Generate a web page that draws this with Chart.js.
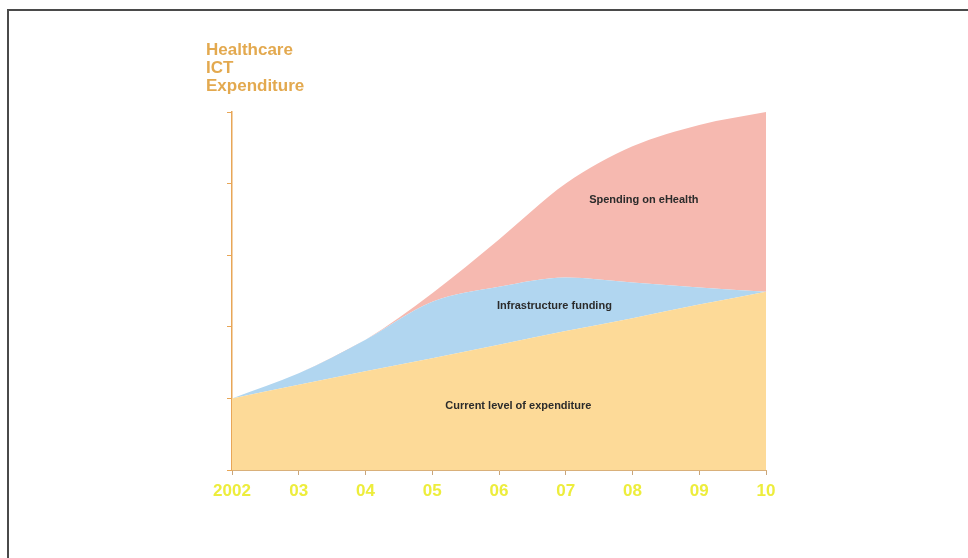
<!DOCTYPE html>
<html>
<head>
<meta charset="utf-8">
<script src="https://cdn.jsdelivr.net/npm/chart.js@4/dist/chart.umd.min.js"></script>
<style>
  html, body { margin: 0; padding: 0; background: #fff; overflow: hidden; }
  #wrap { position: relative; width: 968px; height: 558px; }
  #frame {
    position: absolute; left: 7px; top: 9px; width: 1000px; height: 600px;
    border-left: 2px solid #4a4a4a; border-top: 2px solid #4a4a4a;
  }
  canvas { position: absolute; left: 0; top: 0; }
</style>
</head>
<body>
<div id="wrap">
  <div id="frame"></div>
  <canvas id="chart" width="968" height="558"></canvas>
</div>
<script>
const years = ['2002', '03', '04', '05', '06', '07', '08', '09', '10'];

// stacked layers (each value is the thickness of that layer)
const currentLevel = [1.0, 1.19, 1.38, 1.56, 1.75, 1.94, 2.12, 2.31, 2.49];
const infrastructure = [0, 0.16, 0.44, 0.79, 0.81, 0.75, 0.50, 0.24, 0];
const eHealth = [0, 0, 0, 0.12, 0.66, 1.31, 1.90, 2.27, 2.51];

const yTitle = ['Healthcare', 'ICT', 'Expenditure'];

// text inside the areas, placed in data units
const areaLabels = [
  { text: 'Spending on eHealth', x: 6.17, y: 3.77 },
  { text: 'Infrastructure funding', x: 4.83, y: 2.29 },
  { text: 'Current level of expenditure', x: 4.29, y: 0.89 },
];

const axisColor = '#E8A657';

const labelsPlugin = {
  id: 'labels',
  afterDatasetsDraw(chart) {
    const { ctx, scales } = chart;
    ctx.save();
    ctx.font = 'bold 11px "Liberation Sans", Arial, sans-serif';
    ctx.fillStyle = '#2b2b2b';
    ctx.textAlign = 'center';
    ctx.textBaseline = 'middle';
    areaLabels.forEach(l => {
      ctx.fillText(l.text, scales.x.getPixelForValue(l.x), scales.y.getPixelForValue(l.y));
    });

    // axis title, stacked on three lines above the y axis
    ctx.font = 'bold 17px "Liberation Sans", Arial, sans-serif';
    ctx.fillStyle = '#E3A94F';
    ctx.textAlign = 'left';
    ctx.textBaseline = 'alphabetic';
    const left = chart.chartArea.left - 26;
    yTitle.forEach((line, i) => {
      ctx.fillText(line, left, 55 + i * 18);
    });
    ctx.restore();
  }
};

new Chart(document.getElementById('chart'), {
  type: 'line',
  data: {
    labels: years,
    datasets: [
      {
        label: 'Current level of expenditure',
        data: currentLevel,
        backgroundColor: '#FDDA98',
        fill: 'origin',
      },
      {
        label: 'Infrastructure funding',
        data: infrastructure,
        backgroundColor: '#B1D6F0',
        fill: '-1',
      },
      {
        label: 'Spending on eHealth',
        data: eHealth,
        backgroundColor: '#F6B9B0',
        fill: '-1',
      },
    ],
  },
  options: {
    responsive: false,
    animation: false,
    layout: {
      padding: { left: 212, right: 202, top: 112, bottom: 0 },
    },
    elements: {
      line: { borderWidth: 0, tension: 0.4, cubicInterpolationMode: 'monotone' },
      point: { radius: 0, hoverRadius: 0 },
    },
    plugins: {
      legend: { display: false },
      tooltip: { enabled: false },
    },
    scales: {
      x: {
        offset: false,
        afterFit: s => { s.height = 88; },
        grid: { drawOnChartArea: false, tickLength: 5, color: '#C9A57A' },
        border: { color: '#D9B07A', width: 1 },
        ticks: {
          color: '#EDED3C',
          padding: 6,
          maxRotation: 0,
          autoSkip: false,
          font: { family: '"Liberation Sans", Arial, sans-serif', size: 17, weight: 'bold' },
        },
      },
      y: {
        stacked: true,
        min: 0,
        max: 5,
        afterFit: s => { s.width = 20; },
        grid: { drawOnChartArea: false, tickLength: 5, color: axisColor },
        border: { color: axisColor, width: 1.5 },
        ticks: { display: false, stepSize: 1 },
      },
    },
  },
  plugins: [labelsPlugin],
});
</script>
</body>
</html>
